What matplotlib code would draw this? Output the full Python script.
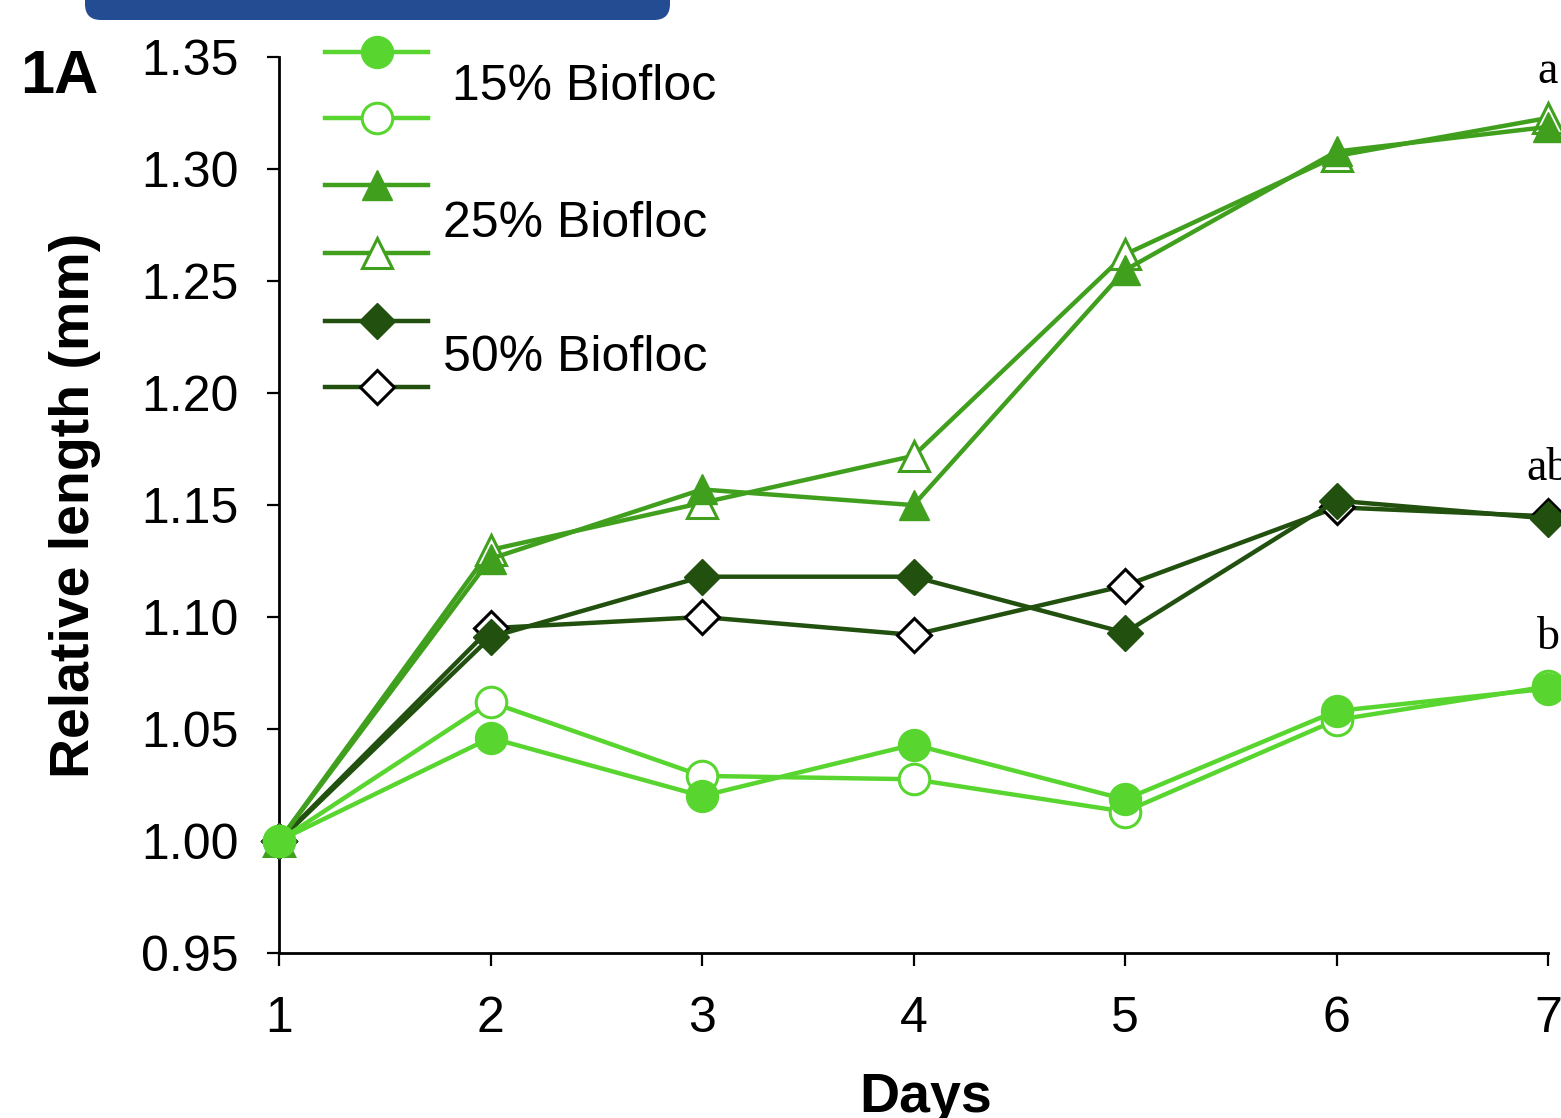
import matplotlib
matplotlib.use("Agg")
import matplotlib.pyplot as plt
from matplotlib.lines import Line2D
from matplotlib.patches import FancyBboxPatch
from matplotlib.transforms import IdentityTransform

# ---- data -------------------------------------------------------------
days = [1, 2, 3, 4, 5, 6, 7]
bf15_filled = [1.000, 1.046, 1.020, 1.043, 1.0185, 1.058, 1.068]
bf15_open = [1.000, 1.062, 1.029, 1.0275, 1.013, 1.054, 1.069]
bf25_filled = [1.000, 1.126, 1.157, 1.150, 1.255, 1.308, 1.319]
bf25_open = [1.000, 1.130, 1.151, 1.172, 1.262, 1.306, 1.323]
bf50_filled = [1.000, 1.091, 1.118, 1.118, 1.093, 1.152, 1.144]
bf50_open = [1.000, 1.095, 1.100, 1.092, 1.114, 1.149, 1.145]

legend_labels = ["15% Biofloc", "25% Biofloc", "50% Biofloc"]
group_letters = ["a", "ab", "b"]
letter_y = [1.3385, 1.1614, 1.0858]

yticks = [0.95, 1.00, 1.05, 1.10, 1.15, 1.20, 1.25, 1.30, 1.35]

# ---- style ------------------------------------------------------------
LIGHT = "#58d62f"
MID = "#40a01e"
DARK = "#21500f"
plt.rcParams["font.family"] = ["Liberation Sans", "DejaVu Sans"]

W, H = 1561, 1118
fig = plt.figure(figsize=(W / 100, H / 100), dpi=100)
fig.patch.set_facecolor("white")


def fx(px):
    return px / W


def fy(py):
    return 1 - py / H


ax = fig.add_axes([fx(279), fy(952.7), fx(1548) - fx(279), fy(57.5) - fy(952.7)])

LW = 3.2
series = [
    # values, color, marker, size, filled, edge colour of open marker
    (bf50_open, DARK, "D", 17, False, "black"),
    (bf50_filled, DARK, "D", 18, True, DARK),
    (bf25_open, MID, "^", 21, False, MID),
    (bf25_filled, MID, "^", 22, True, MID),
    (bf15_open, LIGHT, "o", 22, False, LIGHT),
    (bf15_filled, LIGHT, "o", 23, True, LIGHT),
]

for z, (vals, col, mk, ms, filled, ec) in enumerate(series):
    ax.plot(days, vals, color=col, lw=LW, marker=mk, ms=ms,
            mfc=col if filled else "white", mec=ec,
            mew=1.0 if filled else 2.2, clip_on=False, zorder=3 + z)

for lab, yv in zip(group_letters, letter_y):
    ax.text(7, yv, lab, ha="center", va="baseline", fontsize=33,
            family=["Liberation Serif", "DejaVu Serif"], clip_on=False)

ax.set_xlim(1, 7)
ax.set_ylim(0.95, 1.35)
ax.set_xticks(days)
ax.set_xticklabels([str(d) for d in days])
ax.set_yticks(yticks)
ax.set_yticklabels([f"{v:.2f}" for v in yticks])

for s in ("top", "right"):
    ax.spines[s].set_visible(False)
for s in ("left", "bottom"):
    ax.spines[s].set_linewidth(2.0)
ax.tick_params(axis="both", direction="out", length=9, width=1.6, labelsize=36)
ax.tick_params(axis="x", pad=22)
ax.tick_params(axis="y", pad=20)

# ---- legend drawn as paired samples with one label per pair ------------------
rows = [
    (51.7, LIGHT, "o", 23, True, LIGHT),
    (118.3, LIGHT, "o", 22, False, LIGHT),
    (185.0, MID, "^", 22, True, MID),
    (253.0, MID, "^", 21, False, MID),
    (320.7, DARK, "D", 18, True, DARK),
    (387.3, DARK, "D", 17, False, "black"),
]
for py, col, mk, ms, filled, ec in rows:
    fig.add_artist(Line2D([fx(325), fx(376.5), fx(428)], [fy(py)] * 3,
                          transform=fig.transFigure, color=col, lw=LW,
                          marker=mk, markevery=[1], ms=ms,
                          mfc=col if filled else "white", mec=ec,
                          mew=1.0 if filled else 2.2))

for (px, py), lab in zip([(452, 100), (443, 237), (443, 371)], legend_labels):
    fig.text(fx(px), fy(py), lab, fontsize=36, ha="left", va="baseline")

# ---- titles ------------------------------------------------------------
fig.text(fx(75), fy(505), "Relative length (mm)", rotation=90, ha="center",
         va="center", fontsize=40, weight="bold")
fig.text(fx(926), fy(1112), "Days", ha="center", va="baseline",
         fontsize=40, weight="bold")
fig.text(fx(20), fy(93), "1A", ha="left", va="baseline", fontsize=44,
         weight="bold")

# header bar at the top edge
bar = FancyBboxPatch((85, H - 20), 585, 60,
                     boxstyle="round,pad=0,rounding_size=16",
                     transform=IdentityTransform(), facecolor="#244c92",
                     edgecolor="none", zorder=10)
fig.add_artist(bar)

fig.savefig("out.png", dpi=100)
